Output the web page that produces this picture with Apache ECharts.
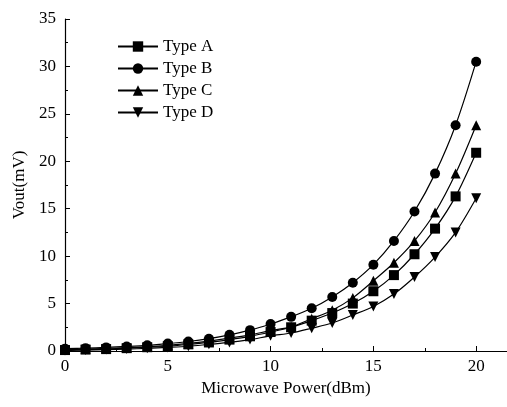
<!DOCTYPE html>
<html><head><meta charset="utf-8">
<script src="https://cdn.jsdelivr.net/npm/echarts@6/dist/echarts.min.js"></script>
<style>html,body{margin:0;padding:0;background:#fff}#c{width:507px;height:407px}</style>
</head><body><div id="c"></div>
<script>
const power = [0,1,2,3,4,5,6,7,8,9,10,11,12,13,14,15,16,17,18,19,20];
const typeA = [0.1,0.15,0.2,0.3,0.4,0.5,0.7,0.9,1.2,1.55,2.0,2.5,3.2,4.0,5.0,6.3,8.0,10.2,12.9,16.3,20.9];
const typeB = [0.25,0.3,0.38,0.48,0.6,0.78,1.0,1.3,1.7,2.2,2.85,3.6,4.5,5.7,7.2,9.1,11.6,14.7,18.7,23.8,30.5];
const typeC = [0.15,0.2,0.28,0.35,0.45,0.6,0.8,1.05,1.35,1.7,2.15,2.55,3.4,4.3,5.6,7.4,9.3,11.6,14.6,18.7,23.8];
const typeD = [0.05,0.1,0.15,0.2,0.28,0.38,0.5,0.7,0.9,1.2,1.6,1.9,2.4,2.95,3.8,4.7,6.0,7.8,9.9,12.5,16.1];
const names = ['Type A','Type B','Type C','Type D'];
const symbols = ['rect','circle','triangle','path://M0,0 L10,0 L5,10 Z'];
const values = [typeA, typeB, typeC, typeD];
const font = 'Liberation Serif';
const chart = echarts.init(document.getElementById('c'));
chart.setOption({
  animation:false,
  textStyle:{fontFamily:font,color:'#000'},
  grid:{left:65,top:19,right:0,bottom:56,containLabel:false},
  legend:{orient:'vertical',left:112,top:33,itemWidth:40,itemHeight:13,itemGap:5,
    textStyle:{fontFamily:font,fontSize:17,color:'#000'},
    data:names},
  xAxis:{type:'value',min:0,max:21.5,interval:5,
    name:'Microwave Power(dBm)',nameLocation:'middle',nameGap:26,
    nameTextStyle:{fontFamily:font,fontSize:17,color:'#000'},
    axisLine:{lineStyle:{color:'#000',width:1.2}},
    axisTick:{inside:true,length:5,lineStyle:{color:'#000'}},
    minorTick:{show:true,splitNumber:2,length:3,lineStyle:{color:'#000'}},
    splitLine:{show:false},
    axisLabel:{fontFamily:font,fontSize:17,color:'#000',margin:7,showMaxLabel:false}},
  yAxis:{type:'value',min:0,max:35,interval:5,
    name:'Vout(mV)',nameLocation:'middle',nameGap:37,
    nameTextStyle:{fontFamily:font,fontSize:17,color:'#000'},
    axisLine:{show:true,lineStyle:{color:'#000',width:1.2}},
    axisTick:{show:true,inside:true,length:5,lineStyle:{color:'#000'}},
    minorTick:{show:true,splitNumber:2,length:3,lineStyle:{color:'#000'}},
    splitLine:{show:false},
    axisLabel:{fontFamily:font,fontSize:17,color:'#000',margin:9}},
  series: names.map((n,i)=>({
    name:n,type:'line',smooth:0.3,
    symbol:symbols[i],symbolSize:10,
    lineStyle:{color:'#000',width:1.2},
    itemStyle:{color:'#000'},
    data:power.map((x,j)=>[x,values[i][j]])
  }))
});
</script></body></html>
